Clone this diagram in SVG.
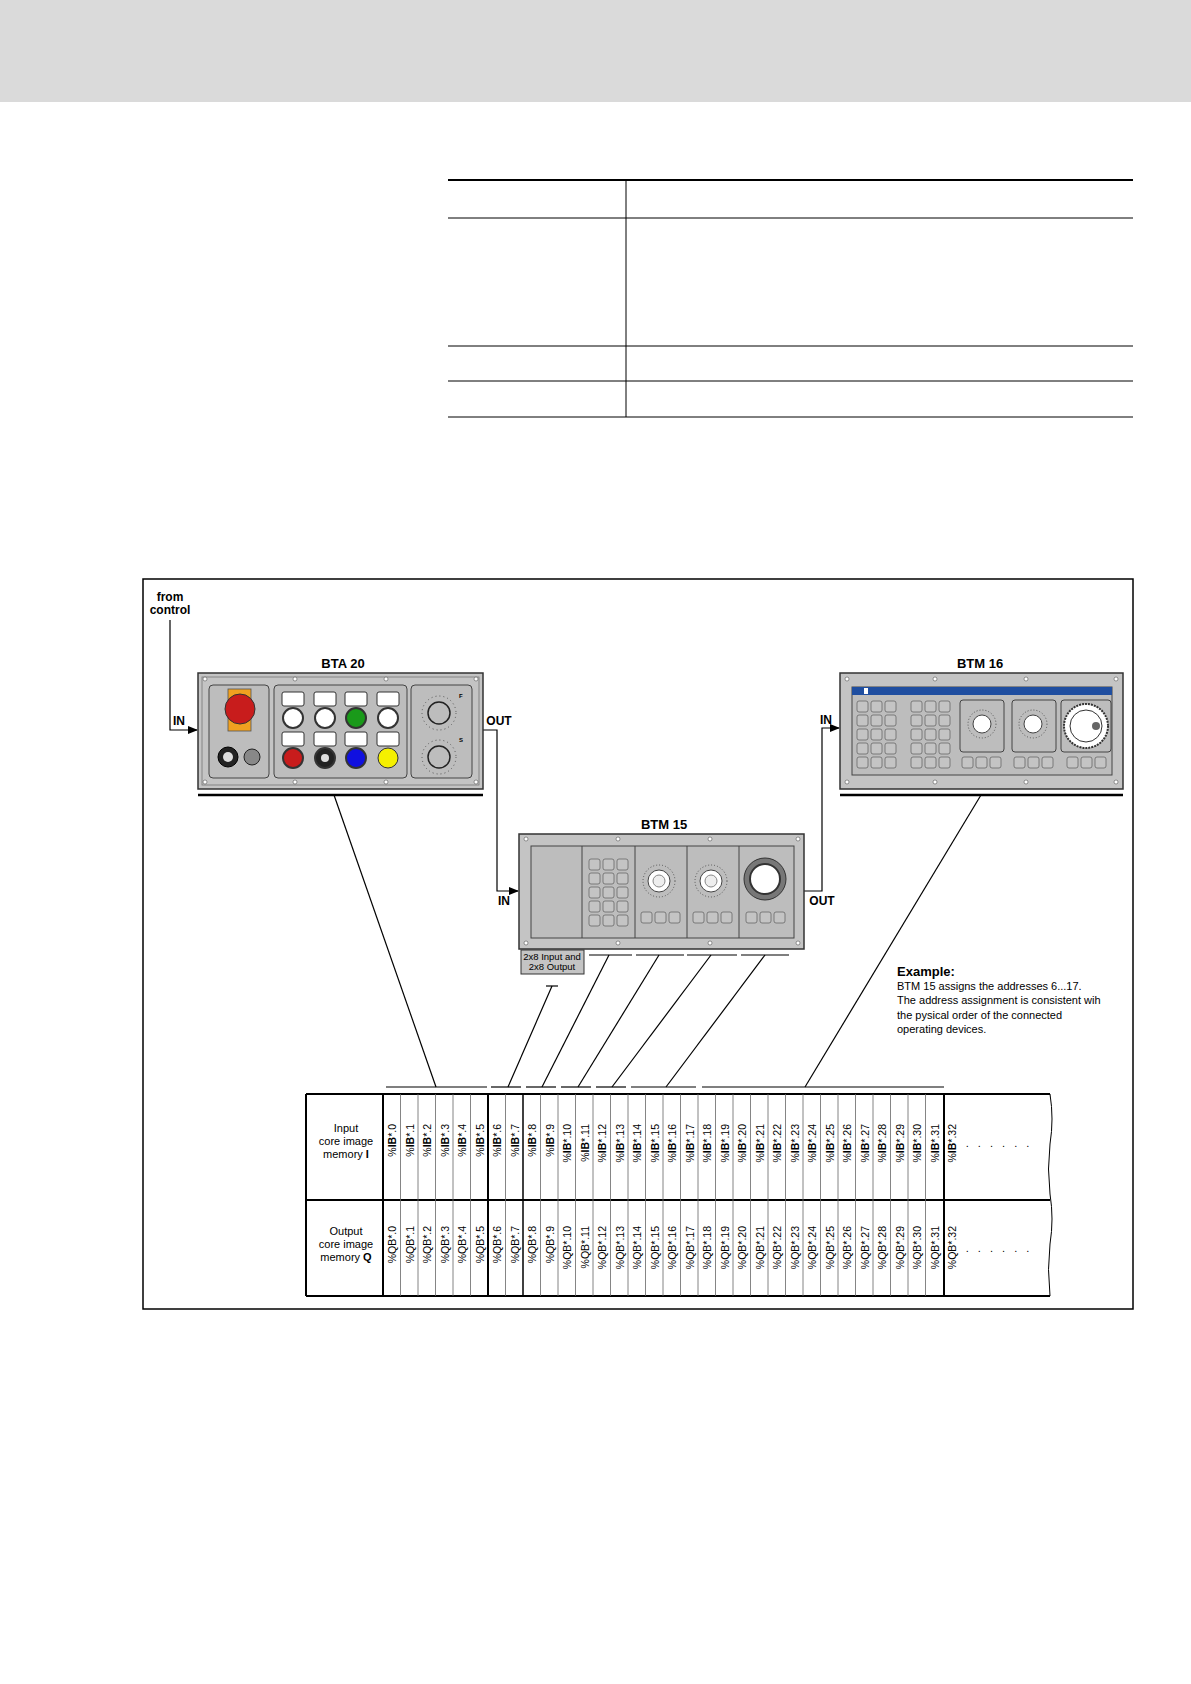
<svg xmlns="http://www.w3.org/2000/svg" width="1191" height="1684" viewBox="0 0 1191 1684">
<style>
text{font-family:"Liberation Sans",Arial,sans-serif;fill:#000}
.t{font-size:12px}.b{font-weight:bold}
.ln{stroke:#000;stroke-width:1.2;fill:none}
.pan{fill:#c4c4c4;stroke:#333;stroke-width:1.5}
.inn{fill:#bdbdbd;stroke:#444;stroke-width:1}
.sq{fill:#c4c4c4;stroke:#666;stroke-width:0.8}
.col{font-size:10.5px}
</style>
<defs>
<marker id="ar" markerWidth="10" markerHeight="8" refX="9" refY="4" orient="auto" markerUnits="userSpaceOnUse"><path d="M0,0 L10,4 L0,8 Z" fill="#000"/></marker>
<pattern id="keys" width="14" height="14" patternUnits="userSpaceOnUse"><rect x="1" y="1" width="11" height="11" rx="2" class="sq"/></pattern>
</defs>
<rect x="0" y="0" width="1191" height="102" fill="#dadada"/>
<g id="toptable" stroke="#000" fill="none">
<line x1="448" y1="180" x2="1133" y2="180" stroke-width="2"/>
<line x1="448" y1="218" x2="1133" y2="218"/>
<line x1="448" y1="346" x2="1133" y2="346"/>
<line x1="448" y1="381" x2="1133" y2="381"/>
<line x1="448" y1="417" x2="1133" y2="417"/>
<line x1="626" y1="180" x2="626" y2="417"/>
</g>
<rect x="143" y="579" width="990" height="730" fill="none" stroke="#000" stroke-width="1.5"/>
<text x="170" y="601" class="t b" text-anchor="middle">from</text>
<text x="170" y="614" class="t b" text-anchor="middle">control</text>

<g id="connectors">
<polyline class="ln" points="170,620 170,730 197,730" marker-end="url(#ar)"/>
<polyline class="ln" points="483,730 497,730 497,891 518,891" marker-end="url(#ar)"/>
<polyline class="ln" points="804,891 822,891 822,728 839,728" marker-end="url(#ar)"/>
<line x1="198" y1="795" x2="483" y2="795" stroke="#000" stroke-width="2.5"/>
<line x1="840" y1="795" x2="1123" y2="795" stroke="#000" stroke-width="2.5"/>
<g stroke-width="1.5">
<line class="ln" x1="589" y1="955" x2="632" y2="955"/>
<line class="ln" x1="636" y1="955" x2="684" y2="955"/>
<line class="ln" x1="687" y1="955" x2="737" y2="955"/>
<line class="ln" x1="741" y1="955" x2="789" y2="955"/>
<line class="ln" x1="386" y1="1087" x2="487" y2="1087"/>
<line class="ln" x1="491" y1="1087" x2="521" y2="1087"/>
<line class="ln" x1="526" y1="1087" x2="556" y2="1087"/>
<line class="ln" x1="561" y1="1087" x2="591" y2="1087"/>
<line class="ln" x1="596" y1="1087" x2="626" y2="1087"/>
<line class="ln" x1="631" y1="1087" x2="696" y2="1087"/>
<line class="ln" x1="702" y1="1087" x2="944" y2="1087"/>
<line class="ln" x1="546" y1="986" x2="558" y2="986"/>
</g>
<line class="ln" x1="334" y1="795" x2="436" y2="1087"/>
<line class="ln" x1="552" y1="986" x2="508" y2="1087"/>
<line class="ln" x1="609" y1="955" x2="542" y2="1087"/>
<line class="ln" x1="659" y1="955" x2="578" y2="1087"/>
<line class="ln" x1="711" y1="955" x2="612" y2="1087"/>
<line class="ln" x1="765" y1="955" x2="666" y2="1087"/>
<line class="ln" x1="981" y1="795" x2="805" y2="1087"/>
</g>
<text x="179" y="725" class="t b" text-anchor="middle">IN</text>
<text x="499" y="725" class="t b" text-anchor="middle">OUT</text>
<text x="504" y="905" class="t b" text-anchor="middle">IN</text>
<text x="822" y="905" class="t b" text-anchor="middle">OUT</text>
<text x="826" y="724" class="t b" text-anchor="middle">IN</text>

<g id="bta20">
<text x="343" y="668" font-size="13" class="b" text-anchor="middle">BTA 20</text>
<rect x="198" y="673" width="285" height="116" class="pan"/>
<rect x="202" y="677" width="277" height="108" fill="none" stroke="#777" stroke-width="0.8"/>
<rect x="209" y="685" width="60" height="93" rx="4" class="inn"/>
<rect x="274" y="685" width="133" height="93" rx="4" class="inn"/>
<rect x="411" y="685" width="61" height="93" rx="4" class="inn"/>
<rect x="228" y="689" width="23" height="42" fill="#f0a020" stroke="#555" stroke-width="0.8"/>
<circle cx="240" cy="709" r="15" fill="#c81c1c" stroke="#333"/>
<circle cx="228" cy="757" r="10" fill="#222" stroke="#000"/><circle cx="228" cy="757" r="5" fill="#ddd"/>
<circle cx="252" cy="757" r="8" fill="#888" stroke="#222"/>
<g stroke="#333" stroke-width="1">
<rect x="282" y="692" width="22" height="14" rx="2" fill="#fff"/><rect x="314" y="692" width="22" height="14" rx="2" fill="#fff"/><rect x="345" y="692" width="22" height="14" rx="2" fill="#fff"/><rect x="377" y="692" width="22" height="14" rx="2" fill="#fff"/>
<rect x="282" y="732" width="22" height="14" rx="2" fill="#fff"/><rect x="314" y="732" width="22" height="14" rx="2" fill="#fff"/><rect x="345" y="732" width="22" height="14" rx="2" fill="#fff"/><rect x="377" y="732" width="22" height="14" rx="2" fill="#fff"/>
<circle cx="293" cy="718" r="10" fill="#fff" stroke-width="2"/><circle cx="325" cy="718" r="10" fill="#fff" stroke-width="2"/><circle cx="356" cy="718" r="10" fill="#1a9a1a" stroke-width="2"/><circle cx="388" cy="718" r="10" fill="#fff" stroke-width="2"/>
<circle cx="293" cy="758" r="10" fill="#c81c1c" stroke-width="2"/><circle cx="325" cy="758" r="10" fill="#222" stroke-width="2"/><circle cx="356" cy="758" r="10" fill="#1010e0" stroke-width="2"/><circle cx="388" cy="758" r="10" fill="#f5f000" stroke-width="1"/>
</g>
<circle cx="325" cy="758" r="4" fill="#ddd"/>
<circle cx="439" cy="713" r="11" fill="none" stroke="#222" stroke-width="1.5"/>
<circle cx="439" cy="713" r="17" fill="none" stroke="#555" stroke-width="1" stroke-dasharray="1,3"/>
<circle cx="439" cy="757" r="11" fill="none" stroke="#222" stroke-width="1.5"/>
<circle cx="439" cy="757" r="17" fill="none" stroke="#555" stroke-width="1" stroke-dasharray="1,3"/>
<text x="459" y="698" font-size="6" class="b">F</text><text x="459" y="742" font-size="6" class="b">S</text>
<g fill="#fff" stroke="#555" stroke-width="0.6"><circle cx="205" cy="679" r="2"/><circle cx="295" cy="679" r="2"/><circle cx="386" cy="679" r="2"/><circle cx="476" cy="679" r="2"/><circle cx="205" cy="782" r="2"/><circle cx="295" cy="782" r="2"/><circle cx="386" cy="782" r="2"/><circle cx="476" cy="782" r="2"/></g>
</g>

<g id="btm15">
<text x="664" y="829" font-size="13" class="b" text-anchor="middle">BTM 15</text>
<rect x="519" y="834" width="285" height="115" class="pan"/>
<rect x="531" y="846" width="263" height="92" class="inn"/>
<g stroke="#444" stroke-width="1"><line x1="582" y1="846" x2="582" y2="938"/><line x1="635" y1="846" x2="635" y2="938"/><line x1="687" y1="846" x2="687" y2="938"/><line x1="739" y1="846" x2="739" y2="938"/></g>
<rect transform="translate(588,858)" width="42" height="70" fill="url(#keys)"/>
<rect transform="translate(640,911)" width="42" height="14" fill="url(#keys)"/>
<rect transform="translate(692,911)" width="42" height="14" fill="url(#keys)"/>
<rect transform="translate(745,911)" width="42" height="14" fill="url(#keys)"/>
<circle cx="659" cy="881" r="16" fill="none" stroke="#555" stroke-dasharray="1,2"/>
<circle cx="659" cy="881" r="11" fill="#fff" stroke="#444"/><circle cx="659" cy="881" r="6" fill="#eee" stroke="#888"/>
<circle cx="711" cy="881" r="16" fill="none" stroke="#555" stroke-dasharray="1,2"/>
<circle cx="711" cy="881" r="11" fill="#fff" stroke="#444"/><circle cx="711" cy="881" r="6" fill="#eee" stroke="#888"/>
<circle cx="765" cy="879" r="21" fill="#777" stroke="#333"/>
<circle cx="765" cy="879" r="15" fill="#fff" stroke="#333" stroke-width="2"/>
<g fill="#fff" stroke="#555" stroke-width="0.6"><circle cx="526" cy="839" r="2"/><circle cx="618" cy="839" r="2"/><circle cx="710" cy="839" r="2"/><circle cx="798" cy="839" r="2"/><circle cx="526" cy="943" r="2"/><circle cx="618" cy="943" r="2"/><circle cx="710" cy="943" r="2"/><circle cx="798" cy="943" r="2"/></g>
</g>
<g id="iobox">
<rect x="521" y="950" width="63" height="24" fill="#c4c4c4" stroke="#333"/>
<text x="552" y="960" font-size="9.5" text-anchor="middle">2x8 Input and</text>
<text x="552" y="970" font-size="9.5" text-anchor="middle">2x8 Output</text>
</g>

<g id="btm16">
<text x="980" y="668" font-size="13" class="b" text-anchor="middle">BTM 16</text>
<rect x="840" y="673" width="283" height="116" class="pan"/>
<rect x="852" y="687" width="260" height="88" class="inn"/>
<rect x="852" y="687" width="260" height="8" fill="#1f4ea0"/>
<rect x="864" y="688" width="4" height="6" fill="#fff"/>
<rect transform="translate(856,700)" width="42" height="70" fill="url(#keys)"/>
<rect transform="translate(910,700)" width="42" height="70" fill="url(#keys)"/>
<rect x="960" y="700" width="44" height="52" rx="3" class="inn"/>
<rect x="1012" y="700" width="44" height="52" rx="3" class="inn"/>
<rect x="1061" y="700" width="50" height="52" rx="3" class="inn"/>
<rect transform="translate(961,756)" width="42" height="14" fill="url(#keys)"/>
<rect transform="translate(1013,756)" width="42" height="14" fill="url(#keys)"/>
<rect transform="translate(1066,756)" width="42" height="14" fill="url(#keys)"/>
<circle cx="982" cy="724" r="14" fill="none" stroke="#555" stroke-dasharray="1,2"/><circle cx="982" cy="724" r="9" fill="#fff" stroke="#444"/>
<circle cx="1033" cy="724" r="14" fill="none" stroke="#555" stroke-dasharray="1,2"/><circle cx="1033" cy="724" r="9" fill="#fff" stroke="#444"/>
<circle cx="1086" cy="726" r="22" fill="#fff" stroke="#333" stroke-width="2" stroke-dasharray="2,1"/>
<circle cx="1086" cy="726" r="16" fill="#fff" stroke="#333"/>
<circle cx="1096" cy="726" r="4" fill="#666"/>
<g fill="#fff" stroke="#555" stroke-width="0.6"><circle cx="847" cy="679" r="2"/><circle cx="935" cy="679" r="2"/><circle cx="1026" cy="679" r="2"/><circle cx="1116" cy="679" r="2"/><circle cx="847" cy="782" r="2"/><circle cx="935" cy="782" r="2"/><circle cx="1026" cy="782" r="2"/><circle cx="1116" cy="782" r="2"/></g>
</g>

<g id="example">
<text x="897" y="976" font-size="13" class="b">Example:</text>
<text x="897" y="990" font-size="11">BTM 15 assigns the addresses 6...17.</text>
<text x="897" y="1004" font-size="11">The address assignment is consistent wih</text>
<text x="897" y="1019" font-size="11">the pysical order of the connected</text>
<text x="897" y="1033" font-size="11">operating devices.</text>
</g>

<g id="memtable">
<path d="M306,1094 H1050 M306,1296 H1050 M306,1200 H1050" stroke="#000" stroke-width="2" fill="none"/>
<line x1="306" y1="1094" x2="306" y2="1296" stroke="#000" stroke-width="2"/>
<path d="M1050,1094 q4,25 0,50 q-3,25 0,50 q4,25 0,50 q-3,25 0,52" stroke="#000" fill="none"/>
<g stroke="#666" stroke-width="0.8">
<line x1="400.5" y1="1094" x2="400.5" y2="1296"/><line x1="418" y1="1094" x2="418" y2="1296"/><line x1="435.5" y1="1094" x2="435.5" y2="1296"/><line x1="453" y1="1094" x2="453" y2="1296"/><line x1="470.5" y1="1094" x2="470.5" y2="1296"/>
<line x1="505.5" y1="1094" x2="505.5" y2="1296"/><line x1="540.5" y1="1094" x2="540.5" y2="1296"/><line x1="558" y1="1094" x2="558" y2="1296"/><line x1="575.5" y1="1094" x2="575.5" y2="1296"/><line x1="593" y1="1094" x2="593" y2="1296"/><line x1="610.5" y1="1094" x2="610.5" y2="1296"/><line x1="628" y1="1094" x2="628" y2="1296"/><line x1="645.5" y1="1094" x2="645.5" y2="1296"/><line x1="663" y1="1094" x2="663" y2="1296"/><line x1="680.5" y1="1094" x2="680.5" y2="1296"/><line x1="698" y1="1094" x2="698" y2="1296"/><line x1="715.5" y1="1094" x2="715.5" y2="1296"/><line x1="733" y1="1094" x2="733" y2="1296"/><line x1="750.5" y1="1094" x2="750.5" y2="1296"/><line x1="768" y1="1094" x2="768" y2="1296"/><line x1="785.5" y1="1094" x2="785.5" y2="1296"/><line x1="803" y1="1094" x2="803" y2="1296"/><line x1="820.5" y1="1094" x2="820.5" y2="1296"/><line x1="838" y1="1094" x2="838" y2="1296"/><line x1="855.5" y1="1094" x2="855.5" y2="1296"/><line x1="873" y1="1094" x2="873" y2="1296"/><line x1="890.5" y1="1094" x2="890.5" y2="1296"/><line x1="908" y1="1094" x2="908" y2="1296"/><line x1="925.5" y1="1094" x2="925.5" y2="1296"/>
</g>
<g stroke="#000" stroke-width="2"><line x1="383" y1="1094" x2="383" y2="1296"/><line x1="488" y1="1094" x2="488" y2="1296"/><line x1="523" y1="1094" x2="523" y2="1296" stroke-width="1.5"/><line x1="944" y1="1094" x2="944" y2="1296"/></g>
<text x="346" y="1132" font-size="11" text-anchor="middle">Input</text>
<text x="346" y="1145" font-size="11" text-anchor="middle">core image</text>
<text x="346" y="1158" font-size="11" text-anchor="middle">memory <tspan class="b">I</tspan></text>
<text x="346" y="1235" font-size="11" text-anchor="middle">Output</text>
<text x="346" y="1248" font-size="11" text-anchor="middle">core image</text>
<text x="346" y="1261" font-size="11" text-anchor="middle">memory <tspan class="b">Q</tspan></text>
<text x="999" y="1147" font-size="11" text-anchor="middle" letter-spacing="3">. . . . . .</text>
<text x="999" y="1252" font-size="11" text-anchor="middle" letter-spacing="3">. . . . . .</text>
<g class="col" text-anchor="end">
<text transform="translate(396,1124) rotate(-90)">%<tspan class="b">IB</tspan>*.0</text>
<text transform="translate(413.5,1124) rotate(-90)">%<tspan class="b">IB</tspan>*.1</text>
<text transform="translate(431,1124) rotate(-90)">%<tspan class="b">IB</tspan>*.2</text>
<text transform="translate(448.5,1124) rotate(-90)">%<tspan class="b">IB</tspan>*.3</text>
<text transform="translate(466,1124) rotate(-90)">%<tspan class="b">IB</tspan>*.4</text>
<text transform="translate(483.5,1124) rotate(-90)">%<tspan class="b">IB</tspan>*.5</text>
<text transform="translate(501,1124) rotate(-90)">%<tspan class="b">IB</tspan>*.6</text>
<text transform="translate(518.5,1124) rotate(-90)">%<tspan class="b">IB</tspan>*.7</text>
<text transform="translate(536,1124) rotate(-90)">%<tspan class="b">IB</tspan>*.8</text>
<text transform="translate(553.5,1124) rotate(-90)">%<tspan class="b">IB</tspan>*.9</text>
<text transform="translate(571,1124) rotate(-90)">%<tspan class="b">IB</tspan>*.10</text>
<text transform="translate(588.5,1124) rotate(-90)">%<tspan class="b">IB</tspan>*.11</text>
<text transform="translate(606,1124) rotate(-90)">%<tspan class="b">IB</tspan>*.12</text>
<text transform="translate(623.5,1124) rotate(-90)">%<tspan class="b">IB</tspan>*.13</text>
<text transform="translate(641,1124) rotate(-90)">%<tspan class="b">IB</tspan>*.14</text>
<text transform="translate(658.5,1124) rotate(-90)">%<tspan class="b">IB</tspan>*.15</text>
<text transform="translate(676,1124) rotate(-90)">%<tspan class="b">IB</tspan>*.16</text>
<text transform="translate(693.5,1124) rotate(-90)">%<tspan class="b">IB</tspan>*.17</text>
<text transform="translate(711,1124) rotate(-90)">%<tspan class="b">IB</tspan>*.18</text>
<text transform="translate(728.5,1124) rotate(-90)">%<tspan class="b">IB</tspan>*.19</text>
<text transform="translate(746,1124) rotate(-90)">%<tspan class="b">IB</tspan>*.20</text>
<text transform="translate(763.5,1124) rotate(-90)">%<tspan class="b">IB</tspan>*.21</text>
<text transform="translate(781,1124) rotate(-90)">%<tspan class="b">IB</tspan>*.22</text>
<text transform="translate(798.5,1124) rotate(-90)">%<tspan class="b">IB</tspan>*.23</text>
<text transform="translate(816,1124) rotate(-90)">%<tspan class="b">IB</tspan>*.24</text>
<text transform="translate(833.5,1124) rotate(-90)">%<tspan class="b">IB</tspan>*.25</text>
<text transform="translate(851,1124) rotate(-90)">%<tspan class="b">IB</tspan>*.26</text>
<text transform="translate(868.5,1124) rotate(-90)">%<tspan class="b">IB</tspan>*.27</text>
<text transform="translate(886,1124) rotate(-90)">%<tspan class="b">IB</tspan>*.28</text>
<text transform="translate(903.5,1124) rotate(-90)">%<tspan class="b">IB</tspan>*.29</text>
<text transform="translate(921,1124) rotate(-90)">%<tspan class="b">IB</tspan>*.30</text>
<text transform="translate(938.5,1124) rotate(-90)">%<tspan class="b">IB</tspan>*.31</text>
<text transform="translate(956,1124) rotate(-90)">%<tspan class="b">IB</tspan>*.32</text>
<text transform="translate(396,1226) rotate(-90)">%QB*.0</text>
<text transform="translate(413.5,1226) rotate(-90)">%QB*.1</text>
<text transform="translate(431,1226) rotate(-90)">%QB*.2</text>
<text transform="translate(448.5,1226) rotate(-90)">%QB*.3</text>
<text transform="translate(466,1226) rotate(-90)">%QB*.4</text>
<text transform="translate(483.5,1226) rotate(-90)">%QB*.5</text>
<text transform="translate(501,1226) rotate(-90)">%QB*.6</text>
<text transform="translate(518.5,1226) rotate(-90)">%QB*.7</text>
<text transform="translate(536,1226) rotate(-90)">%QB*.8</text>
<text transform="translate(553.5,1226) rotate(-90)">%QB*.9</text>
<text transform="translate(571,1226) rotate(-90)">%QB*.10</text>
<text transform="translate(588.5,1226) rotate(-90)">%QB*.11</text>
<text transform="translate(606,1226) rotate(-90)">%QB*.12</text>
<text transform="translate(623.5,1226) rotate(-90)">%QB*.13</text>
<text transform="translate(641,1226) rotate(-90)">%QB*.14</text>
<text transform="translate(658.5,1226) rotate(-90)">%QB*.15</text>
<text transform="translate(676,1226) rotate(-90)">%QB*.16</text>
<text transform="translate(693.5,1226) rotate(-90)">%QB*.17</text>
<text transform="translate(711,1226) rotate(-90)">%QB*.18</text>
<text transform="translate(728.5,1226) rotate(-90)">%QB*.19</text>
<text transform="translate(746,1226) rotate(-90)">%QB*.20</text>
<text transform="translate(763.5,1226) rotate(-90)">%QB*.21</text>
<text transform="translate(781,1226) rotate(-90)">%QB*.22</text>
<text transform="translate(798.5,1226) rotate(-90)">%QB*.23</text>
<text transform="translate(816,1226) rotate(-90)">%QB*.24</text>
<text transform="translate(833.5,1226) rotate(-90)">%QB*.25</text>
<text transform="translate(851,1226) rotate(-90)">%QB*.26</text>
<text transform="translate(868.5,1226) rotate(-90)">%QB*.27</text>
<text transform="translate(886,1226) rotate(-90)">%QB*.28</text>
<text transform="translate(903.5,1226) rotate(-90)">%QB*.29</text>
<text transform="translate(921,1226) rotate(-90)">%QB*.30</text>
<text transform="translate(938.5,1226) rotate(-90)">%QB*.31</text>
<text transform="translate(956,1226) rotate(-90)">%QB*.32</text>
</g>
</g>
</svg>
